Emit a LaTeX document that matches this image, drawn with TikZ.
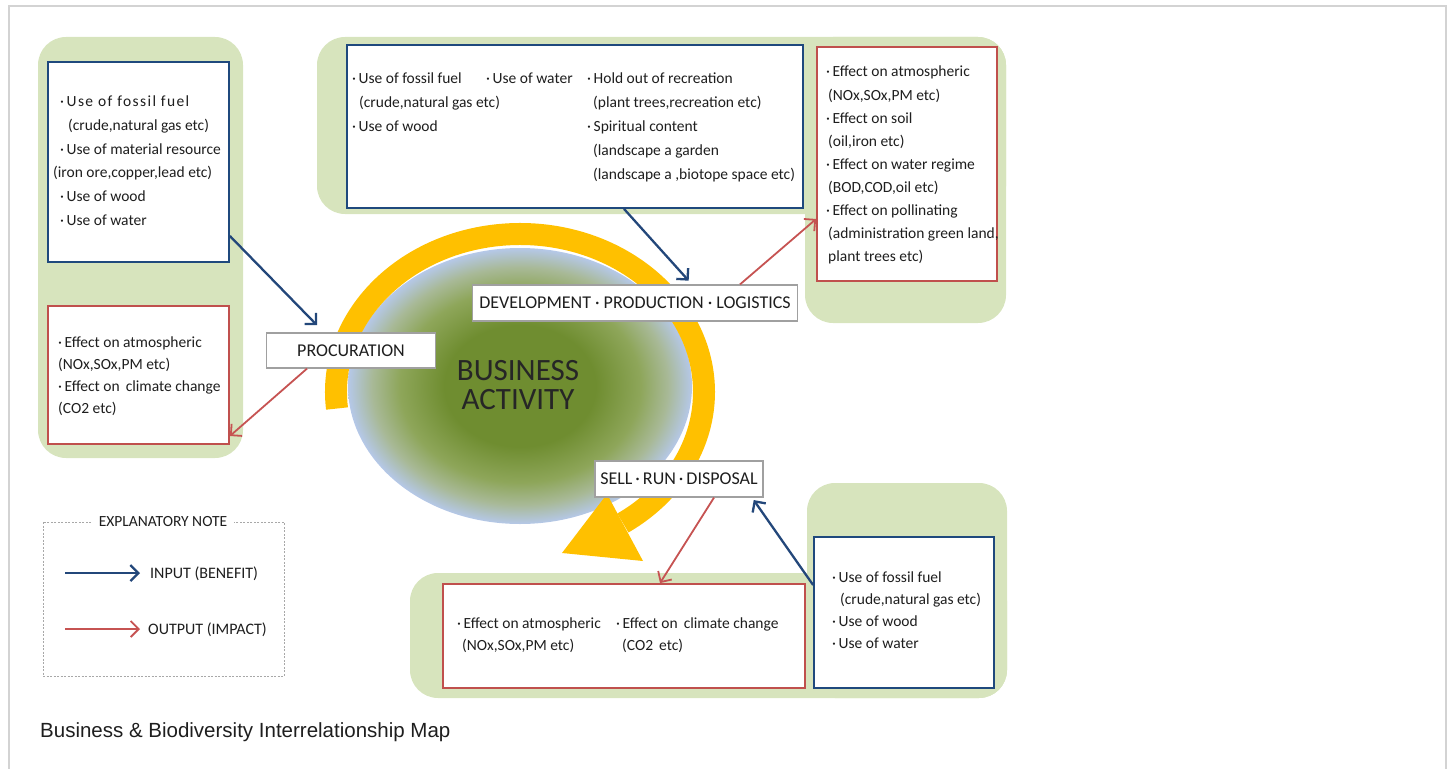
\documentclass[tikz,border=0pt]{standalone}
\usepackage{fontspec}
\setmainfont{Carlito}
\newfontfamily\capfont{Liberation Sans}
\usetikzlibrary{arrows.meta}
\definecolor{bggreen}{HTML}{D7E4BD}
\definecolor{boxblue}{HTML}{1F497D}
\definecolor{boxred}{HTML}{C0504D}
\definecolor{arrblue}{HTML}{23477A}
\definecolor{arrred}{HTML}{C65352}
\definecolor{yel}{HTML}{FFC000}
\definecolor{labgray}{HTML}{A0A0A0}
\definecolor{framegray}{HTML}{D3D3D3}
\definecolor{notegray}{HTML}{A8A8A8}
\definecolor{txtc}{HTML}{1E1E1E}
\definecolor{bizc}{HTML}{262626}
\definecolor{dg}{HTML}{6F8D30}
\definecolor{mg}{HTML}{8EA65A}
\definecolor{gg}{HTML}{A8B997}
\definecolor{lb}{HTML}{B5C8E8}
\pgfdeclareradialshading{bizdisk}{\pgfpoint{0bp}{0bp}}{color(0bp)=(dg); color(11bp)=(dg); color(17.5bp)=(mg); color(21.5bp)=(gg); color(25bp)=(lb); color(50bp)=(lb)}
\tikzset{
  greenbg/.style={fill=bggreen, rounded corners=28pt},
  bluebox/.style={draw=boxblue, line width=1.8pt, fill=white, inner sep=0pt},
  redbox/.style={draw=boxred, line width=1.8pt, fill=white, inner sep=0pt},
  labelbox/.style={draw=labgray, line width=1.2pt, fill=white, inner sep=0pt, text=txtc, font=\fontsize{18}{20}\selectfont},
  txt/.style={anchor=base west, inner sep=0pt, text=txtc, font=\fontsize{15.5}{18}\selectfont},
  legtxt/.style={anchor=west, inner sep=0pt, text=txtc, font=\fontsize{16}{18}\selectfont},
  biztext/.style={align=center, inner sep=0pt, font=\fontsize{31}{29}\selectfont},
  inarrow/.style={draw=arrblue, line width=2.3pt, -{Straight Barb[length=8pt,width=16pt]}},
  outarrow/.style={draw=arrred, line width=1.8pt, -{Straight Barb[length=8pt,width=16pt]}},
  bigarc/.style={draw=yel, line width=22pt},
}
\begin{document}
\begin{tikzpicture}[x=1pt,y=-1pt]
\useasboundingbox (0,0) rectangle (1453,768);
\draw[framegray, line width=1.5pt] (9,770) -- (9,6) -- (1446,6) -- (1446,770);
% green backgrounds
\fill[greenbg] (38,37) rectangle (243,458);
\fill[greenbg] (317,37) rectangle (1006,214);
\fill[greenbg] (805,37) rectangle (1006,323);
\fill[greenbg] (410,573) rectangle (1007,698);
\fill[greenbg] (807,483) rectangle (1007,698);
% central disk and cycle arrow
\shade[shading=bizdisk] (520,386) ellipse[x radius=172, y radius=138];
\draw[bigarc] (520,392) ++(174:184 and 158) arc[start angle=174, end angle=416, x radius=184, y radius=158];
\fill[yel] (607,494) -- (562,553) -- (643,561) -- cycle;
\node[biztext, text=bizc] (biz) at (518,385) {BUSINESS\\ACTIVITY};
% boxes
\node[bluebox, minimum width=181, minimum height=200] (lblue) at (138.5,162) {};
\node[redbox, minimum width=181, minimum height=138] (lred) at (138.5,375) {};
\node[bluebox, minimum width=456, minimum height=163] (tblue) at (575,126.5) {};
\node[redbox, minimum width=180, minimum height=234] (tred) at (907,164) {};
\node[redbox, minimum width=362, minimum height=104] (bred) at (624,636) {};
\node[bluebox, minimum width=180, minimum height=151] (bblue) at (904,612.5) {};
% box texts
\foreach \x/\s [count=\i from 0] in {60/{\addfontfeature{LetterSpace=9}·\,Use of fossil fuel}, 68/{(crude,natural gas etc)}, 60/{·\,Use of material resource}, 53/{(iron ore,copper,lead etc)}, 60/{·\,Use of wood}, 60/{·\,Use of water}}
  \node[txt] (lbt\i) at (\x,{106.7+23.7*\i}) {\s};
\foreach \x/\s [count=\i from 0] in {58/{·\,Effect on atmospheric}, 58/{(NOx,SOx,PM etc)}, 58/{·\,Effect on\, climate change}, 58/{(CO2 etc)}}
  \node[txt] (lrt\i) at (\x,{347+22*\i}) {\s};
\foreach \x/\s [count=\i from 0] in {352/{·\,Use of fossil fuel}, 359/{(crude,natural gas etc)}, 352/{·\,Use of wood}}
  \node[txt] (tbt\i) at (\x,{83+24*\i}) {\s};
\node[txt] (tbw) at (486,83) {·\,Use of water};
\foreach \x/\s [count=\i from 0] in {587/{·\,Hold out of recreation}, 593/{(plant trees,recreation etc)}, 587/{·\,Spiritual content}, 593/{(landscape a garden}, 593/{(landscape a ,biotope space etc)}}
  \node[txt] (tbr\i) at (\x,{83+24*\i}) {\s};
\foreach \x/\s [count=\i from 0] in {826/{·\,Effect on atmospheric}, 828/{(NOx,SOx,PM etc)}, 826/{·\,Effect on soil}, 828/{(oil,iron etc)}, 826/{·\,Effect on water regime}, 828/{(BOD,COD,oil etc)}, 826/{·\,Effect on pollinating}, 828/{(administration green land,}, 828/{plant trees etc)}}
  \node[txt] (trt\i) at (\x,{77+23*\i}) {\s};
\node[txt] (brt0) at (457,628) {·\,Effect on atmospheric};
\node[txt] (brt1) at (462,650) {(NOx,SOx,PM etc)};
\node[txt] (brt2) at (616,628) {·\,Effect on\, climate change};
\node[txt] (brt3) at (622,650) {(CO2\, etc)};
\foreach \x/\s [count=\i from 0] in {832/{·\,Use of fossil fuel}, 840/{(crude,natural gas etc)}, 832/{·\,Use of wood}, 832/{·\,Use of water}}
  \node[txt] (bbt\i) at (\x,{582+22.3*\i}) {\s};
% stage labels
\node[labelbox, minimum width=169, minimum height=35] (proc) at (351,350.5) {PROCURATION};
\node[labelbox, minimum width=325, minimum height=36] (dev) at (635,303) {DEVELOPMENT · PRODUCTION · LOGISTICS};
\node[labelbox, minimum width=168, minimum height=36] (sell) at (679,479) {SELL\,·\,RUN\,·\,DISPOSAL};
% connectors
\draw[inarrow, shorten >=10pt] (lblue.east |- 0,236) -- (proc.north -| 324,0);
\draw[outarrow] (proc.south -| 307,0) -- (lred.east |- 0,436);
\draw[inarrow, shorten >=5pt] (tblue.south -| 624,0) -- (dev.north -| 692,0);
\draw[outarrow] (dev.north -| 740,0) -- (tred.west |- 0,219);
\draw[outarrow] (sell.south -| 714,0) -- (bred.north -| 660,0);
\draw[inarrow, shorten >=3pt] (bblue.west |- 0,585) -- (sell.south -| 752,0);
% legend
\draw[notegray, line width=1pt, dash pattern=on 2pt off 1.5pt] (43,522) rectangle (284,676);
\node[fill=white, inner xsep=7pt, inner ysep=2pt, text=txtc, font=\fontsize{15.5}{18}\selectfont] (note) at (163,522) {EXPLANATORY NOTE};
\coordinate (lgin) at (65,573);
\coordinate (lgout) at (65,629);
\node[legtxt] (intext) at (150,574) {INPUT (BENEFIT)};
\node[legtxt] (outtext) at (148,630) {OUTPUT (IMPACT)};
\draw[inarrow, shorten >=10pt] (lgin) -- (intext.west |- lgin);
\draw[outarrow, shorten >=8pt] (lgout) -- (outtext.west |- lgout);
% caption
\node[anchor=base west, inner sep=0pt, font=\capfont\fontsize{20.5}{24}\selectfont, text=txtc] (cap) at (40,737) {Business \& Biodiversity Interrelationship Map};
\end{tikzpicture}
\end{document}
